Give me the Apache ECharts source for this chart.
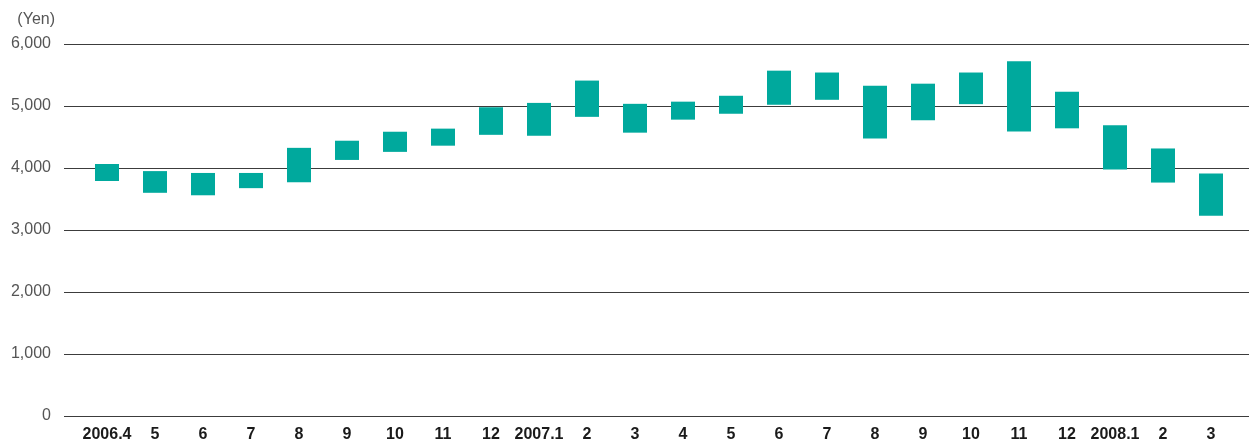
<!DOCTYPE html>
<html>
<head>
<meta charset="utf-8">
<script src="https://cdn.jsdelivr.net/npm/echarts@6/dist/echarts.min.js"></script>
<style>html,body{margin:0;padding:0;background:#fff}#c{width:1249px;height:444px}</style>
</head>
<body>
<div id="c"></div>
<script>
const categories = ['2006.4','5','6','7','8','9','10','11','12','2007.1','2','3','4','5','6','7','8','9','10','11','12','2008.1','2','3'];
const highs = [4065,3950,3920,3920,4325,4440,4585,4635,4980,5050,5410,5035,5070,5165,5570,5540,5325,5360,5540,5720,5230,4690,4315,3910];
const lows  = [3790,3600,3560,3675,3770,4130,4260,4360,4535,4520,4825,4570,4780,4875,5020,5100,4475,4770,5030,4590,4640,3975,3765,3230];
const yTicks = {min:0, max:6000, interval:1000};

const ranges = highs.map((h,i)=>h-lows[i]);
const chart = echarts.init(document.getElementById('c'), null, {renderer:'canvas'});
const font = "'Liberation Sans', Arial, sans-serif";
chart.setOption({
  animation:false,
  grid:[
    {left:64, right:0, top:44, bottom:28},
    {left:83, right:14, top:44, bottom:28}
  ],
  xAxis:[
    {gridIndex:0, type:'category', data:categories, show:false},
    {gridIndex:1, type:'category', data:categories,
     axisLine:{show:false}, axisTick:{show:false},
     axisLabel:{interval:0, margin:11, color:'#1a1a1a', fontSize:16, fontWeight:'bold', fontFamily:font}}
  ],
  yAxis:[
    {gridIndex:0, type:'value', min:yTicks.min, max:yTicks.max, interval:yTicks.interval,
     name:'(Yen)', nameLocation:'end', nameGap:16,
     nameTextStyle:{align:'right', padding:[0,9,0,0], color:'#555', fontSize:16, fontFamily:font},
     axisLine:{show:false}, axisTick:{show:false},
     axisLabel:{margin:13, color:'#555', fontSize:16, fontFamily:font,
       formatter:v=>v.toLocaleString('en-US')},
     splitLine:{show:true, lineStyle:{color:'#3c3c3c', width:1.2}}},
    {gridIndex:1, type:'value', min:yTicks.min, max:yTicks.max, interval:yTicks.interval, show:false, splitLine:{show:false}}
  ],
  series:[
    {type:'bar', xAxisIndex:1, yAxisIndex:1, stack:'r', data:lows, barWidth:24,
     itemStyle:{color:'transparent'}, silent:true},
    {type:'bar', xAxisIndex:1, yAxisIndex:1, stack:'r', data:ranges, barWidth:24,
     itemStyle:{color:'#00A99D'}}
  ]
});
</script>
</body>
</html>
